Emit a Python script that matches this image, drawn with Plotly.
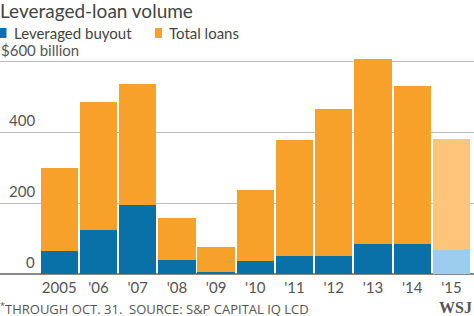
import plotly.graph_objects as go

years = ["2005", "'06", "'07", "'08", "'09", "'10", "'11", "'12", "'13", "'14", "'15"]
total_loans = [300, 486, 535, 159, 77, 238, 379, 466, 607, 530, 381]
leveraged_buyout = [64, 125, 194, 39, 5, 37, 52, 52, 84, 85, 69]
y_ticks = [0, 200, 400, 600]

ORANGE = "#f7a12a"
BLUE = "#0a71a8"
ORANGE_LIGHT = "#fcc57a"
BLUE_LIGHT = "#9ccdee"

n = len(years)
xs = list(range(n))
orange_colors = [ORANGE] * (n - 1) + [ORANGE_LIGHT]
blue_colors = [BLUE] * (n - 1) + [BLUE_LIGHT]

fig = go.Figure()
fig.add_trace(go.Bar(x=xs, y=total_loans, name="Total loans", marker_color=orange_colors,
                     marker_line_width=0, width=0.95, showlegend=False))
fig.add_trace(go.Bar(x=xs, y=leveraged_buyout, name="Leveraged buyout", marker_color=blue_colors,
                     marker_line_width=0, width=0.95, showlegend=False))

W, H = 474, 316
T, B = 54, 42
PH = H - T - B
def py(pix):
    return (H - B - pix) / PH

FONT = "Lato"
GRAY = "#555555"

annotations = []
for v in y_ticks[:-1]:
    annotations.append(dict(x=37 / W, xref="paper", y=v, yref="y", text=str(v),
                            xanchor="right", yanchor="bottom", showarrow=False,
                            font=dict(family=FONT, size=15, color=GRAY), yshift=1))
annotations.append(dict(x=0, xref="paper", y=600, yref="y", text="$600 billion",
                        xanchor="left", yanchor="bottom", showarrow=False,
                        font=dict(family=FONT, size=15, color=GRAY), xshift=-1, yshift=0))
annotations.append(dict(x=0, xref="paper", y=py(0), yref="paper", text="Leveraged-loan volume",
                        xanchor="left", yanchor="top", showarrow=False,
                        font=dict(family=FONT, size=19, color="#444444"), xshift=-2, yshift=3))
annotations.append(dict(x=12 / W, xref="paper", y=py(33), yref="paper", text="Leveraged buyout",
                        xanchor="left", yanchor="middle", showarrow=False,
                        font=dict(family=FONT, size=15, color="#444444")))
annotations.append(dict(x=167 / W, xref="paper", y=py(33), yref="paper", text="Total loans",
                        xanchor="left", yanchor="middle", showarrow=False,
                        font=dict(family=FONT, size=15, color="#444444")))
annotations.append(dict(x=0, xref="paper", y=py(308.5), yref="paper",
                        text="<sup>*</sup>THROUGH OCT. 31.  SOURCE: S&P CAPITAL IQ LCD",
                        xanchor="left", yanchor="middle", showarrow=False,
                        font=dict(family="Open Sans", size=13, color=GRAY), xshift=-2))
annotations.append(dict(x=1, xref="paper", y=py(307), yref="paper", text="<b>WSJ</b>",
                        xanchor="right", yanchor="middle", showarrow=False,
                        font=dict(family="Liberation Serif", size=16, color=GRAY), xshift=0))

shapes = [
    dict(type="rect", xref="paper", yref="paper", x0=0, x1=6.5 / W, y0=py(38), y1=py(28),
         fillcolor=BLUE, line_width=0),
    dict(type="rect", xref="paper", yref="paper", x0=155 / W, x1=162 / W, y0=py(38), y1=py(28),
         fillcolor=ORANGE, line_width=0),
]

fig.update_layout(
    width=W, height=H,
    margin=dict(l=0, r=0, t=T, b=B),
    paper_bgcolor="white", plot_bgcolor="white",
    barmode="overlay", bargap=0,
    annotations=annotations, shapes=shapes,
    xaxis=dict(range=[-1.51, 10.576], tickvals=xs, ticktext=years, showgrid=False,
               zeroline=False, showline=False, ticks="", ticklabelstandoff=3,
               tickfont=dict(family=FONT, size=15, color=GRAY)),
    yaxis=dict(range=[0, 620], tickvals=y_ticks, showticklabels=False, showgrid=True,
               gridcolor="#bdbdbd", gridwidth=1, zeroline=True, zerolinecolor="#8a8a8a",
               zerolinewidth=1.5, showline=False),
)

fig.write_html("out.html")
